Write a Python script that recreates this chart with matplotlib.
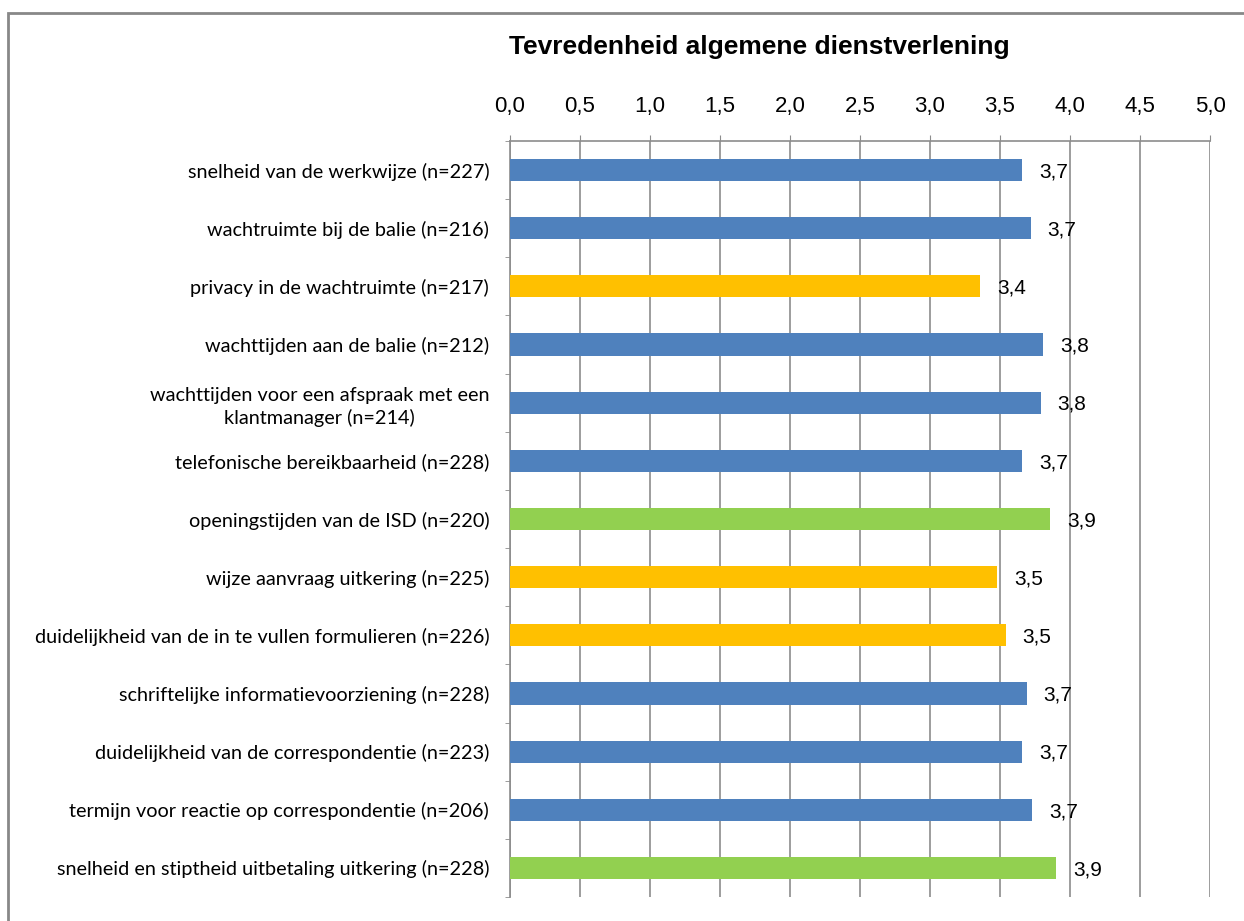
import matplotlib.pyplot as plt
from matplotlib.patches import Rectangle
from matplotlib.ticker import FuncFormatter, MultipleLocator
import numpy as np

categories = [
    "snelheid van de werkwijze (n=227)",
    "wachtruimte bij de balie (n=216)",
    "privacy in de wachtruimte (n=217)",
    "wachttijden aan de balie (n=212)",
    "wachttijden voor een afspraak met een\nklantmanager (n=214)",
    "telefonische bereikbaarheid (n=228)",
    "openingstijden van de ISD (n=220)",
    "wijze aanvraag uitkering (n=225)",
    "duidelijkheid van de in te vullen formulieren (n=226)",
    "schriftelijke informatievoorziening (n=228)",
    "duidelijkheid van de correspondentie (n=223)",
    "termijn voor reactie op correspondentie (n=206)",
    "snelheid en stiptheid uitbetaling uitkering (n=228)",
]
scores = [3.66, 3.72, 3.36, 3.81, 3.79, 3.66, 3.86, 3.48, 3.54, 3.69, 3.66, 3.73, 3.90]
groups = ["blue", "blue", "yellow", "blue", "blue", "blue", "green",
          "yellow", "yellow", "blue", "blue", "blue", "green"]

palette = {"blue": "#4F81BD", "yellow": "#FFC000", "green": "#92D050"}
grid_col = "#8C8C8C"

fig = plt.figure(figsize=(12.44, 9.21), dpi=100)
ax = fig.add_axes([510 / 1244, 1 - 897 / 921, 700 / 1244, 756 / 921])

y = np.arange(len(categories))
ax.barh(y, scores, height=0.38, color=[palette[g] for g in groups], zorder=3)

for yi, v in zip(y, scores):
    ax.text(v + 0.12, yi + 0.03, f"{v:.1f}".replace(".", ","), va="center", ha="left",
            fontsize=15, family="Liberation Sans", zorder=4)

ax.set_xlim(0, 5)
ax.set_ylim(len(categories) - 0.5, -0.5)
ax.xaxis.set_major_locator(MultipleLocator(0.5))
ax.xaxis.set_major_formatter(FuncFormatter(lambda x, p: f"{x:.1f}".replace(".", ",")))
ax.xaxis.tick_top()
ax.tick_params(axis="x", direction="out", length=4.5, color=grid_col, pad=13,
               labelsize=16)
for lab in ax.get_xticklabels():
    lab.set_family("Liberation Sans")

ax.set_yticks(y)
ax.set_yticklabels(categories, fontsize=14.3, family="Lato", linespacing=1.35)
for lab in ax.get_yticklabels():
    lab.set_multialignment("center")
ax.tick_params(axis="y", which="major", length=0, pad=15)
ax.set_yticks(np.arange(-0.5, len(categories)), minor=True)
ax.tick_params(axis="y", which="minor", length=3.6, color=grid_col, direction="out")
ax.xaxis.grid(True, color=grid_col, linewidth=1.2, zorder=0)

for s in ["right", "bottom"]:
    ax.spines[s].set_visible(False)
for s in ["top", "left"]:
    ax.spines[s].set_color(grid_col)
    ax.spines[s].set_linewidth(1.2)

fig.text(759 / 1244, 1 - 47 / 921, "Tevredenheid algemene dienstverlening",
         ha="center", va="center", fontsize=19, fontweight="bold",
         family="Liberation Sans")

fig.patches.append(Rectangle((8 / 1244, -0.1), 1.2, 1.1 - 13 / 921,
                             transform=fig.transFigure, fill=False,
                             edgecolor="#888888", linewidth=2))

fig.savefig("out.png", dpi=100)
